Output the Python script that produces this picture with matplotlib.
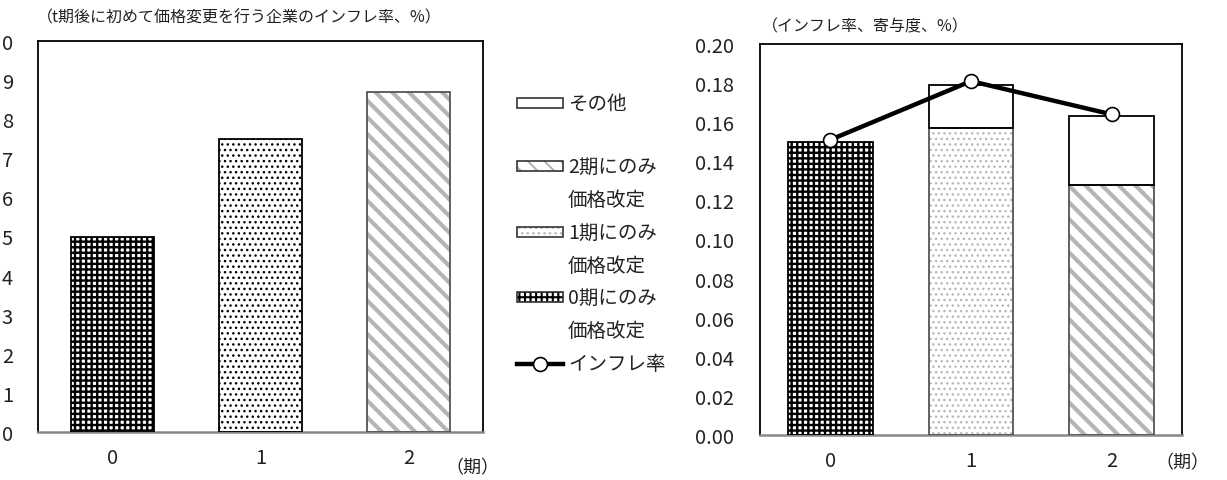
import matplotlib
matplotlib.use("Agg")
import matplotlib.pyplot as plt
from matplotlib.patches import Rectangle
from matplotlib.lines import Line2D
import numpy as np

plt.rcParams["font.family"] = ["Noto Sans CJK JP", "DejaVu Sans"]

# data
periods = ["0", "1", "2"]
left_rate = [0.050, 0.075, 0.087]           # t期後に初めて価格変更を行う企業のインフレ率
only_p0 = [0.150, 0.0, 0.0]                 # 0期にのみ価格改定
only_p1 = [0.0, 0.157, 0.0]                 # 1期にのみ価格改定
only_p2 = [0.0, 0.0, 0.128]                 # 2期にのみ価格改定
others = [0.0, 0.022, 0.035]                # その他
inflation = [0.151, 0.181, 0.164]           # インフレ率
left_ticks = [0.00, 0.01, 0.02, 0.03, 0.04, 0.05, 0.06, 0.07, 0.08, 0.09, 0.10]
right_ticks = [0.00, 0.02, 0.04, 0.06, 0.08, 0.10, 0.12, 0.14, 0.16, 0.18, 0.20]

STYLES = {
    "check": dict(hatch="+++", hc="black", hlw=1.7, edge="black"),
    "dots_dark": dict(hatch="...", hc="black", hlw=1.0, edge="black"),
    "dots_light": dict(hatch="...", hc="#b8b8b8", hlw=1.0, edge="#555555"),
    "diag": dict(hatch="\\\\", hc="#b5b5b5", hlw=3.0, edge="#555555"),
    "plain": dict(hatch=None, hc="black", hlw=1.0, edge="black"),
}


def set_hlw(patch, lw):
    if hasattr(patch, "set_hatch_linewidth"):
        patch.set_hatch_linewidth(lw)


def styled_bar(ax, x, h, bottom, style, width):
    st = STYLES[style]
    x = np.asarray(x, dtype=float)
    h = np.asarray(h, dtype=float)
    bottom = np.asarray(bottom, dtype=float)
    m = h > 0
    if st["hatch"]:
        with plt.rc_context({"hatch.linewidth": st["hlw"]}):
            bars = ax.bar(x[m], h[m], bottom=bottom[m], width=width, color="white",
                          edgecolor=st["hc"], hatch=st["hatch"], linewidth=0, zorder=2)
            for b in bars:
                set_hlw(b, st["hlw"])
    ax.bar(x[m], h[m], bottom=bottom[m], width=width, fill=False,
           edgecolor=st["edge"], linewidth=1.3, zorder=3)


def style_axes(ax):
    for s in ["left", "right", "top"]:
        ax.spines[s].set_color("black")
        ax.spines[s].set_linewidth(1.3)
    ax.spines["bottom"].set_color("#888888")
    ax.spines["bottom"].set_linewidth(1.8)
    ax.tick_params(length=0, labelsize=14.5, colors="#222222")
    ax.tick_params(axis="y", pad=19)
    ax.tick_params(axis="x", pad=11)


fig = plt.figure(figsize=(12.27, 4.81), dpi=100)
W, H = 1227, 481

# left chart (the source image shows only the last digit of each y label)
axl = fig.add_axes([38 / W, (H - 433) / H, 445 / W, 391 / H])
x = np.arange(len(periods))
for i, st in enumerate(["check", "dots_dark", "diag"]):
    vals = np.zeros(len(periods))
    vals[i] = left_rate[i]
    styled_bar(axl, x, vals, np.zeros(len(periods)), st, 0.56)
axl.set_xlim(-0.5, 2.5)
axl.set_ylim(0, 0.10)
axl.set_xticks(x, periods)
axl.set_yticks(left_ticks, [f"{v:.2f}"[-1] for v in left_ticks])
style_axes(axl)
axl.tick_params(axis="y", pad=18)
fig.text(37 / W, 1 - 18 / H, "（t期後に初めて価格変更を行う企業のインフレ率、%）",
         fontsize=11.5, va="center", ha="left", color="#222222")
fig.text(445 / W, 1 - 468 / H, "（期）", fontsize=13, va="center", ha="left", color="#222222")

# right chart
axr = fig.add_axes([760 / W, (H - 436) / H, 422 / W, 391 / H])
bottom = np.zeros(len(periods))
for vals, st in [(only_p0, "check"), (only_p1, "dots_light"), (only_p2, "diag"), (others, "plain")]:
    styled_bar(axr, x, vals, bottom, st, 0.6)
    bottom = bottom + np.asarray(vals)
axr.plot(x, inflation, color="black", lw=3.2, marker="o", ms=10, mfc="white",
         mec="black", mew=1.2, zorder=5, clip_on=False)
axr.set_xlim(-0.5, 2.5)
axr.set_ylim(0, 0.20)
axr.set_xticks(x, periods)
axr.set_yticks(right_ticks, [f"{v:.2f}" for v in right_ticks])
style_axes(axr)
fig.text(762 / W, 1 - 27 / H, "（インフレ率、寄与度、%）",
         fontsize=11.5, va="center", ha="left", color="#222222")
fig.text(1155 / W, 1 - 463 / H, "（期）", fontsize=13, va="center", ha="left", color="#222222")

# legend drawn in pixel coordinates
lax = fig.add_axes([0, 0, 1, 1])
lax.set_xlim(0, W)
lax.set_ylim(H, 0)
lax.axis("off")
lax.set_zorder(-1)
legend_items = [
    ("plain", ["その他"], 104),
    ("diag", ["2期にのみ", "価格改定"], 167),
    ("dots_light", ["1期にのみ", "価格改定"], 233),
    ("check", ["0期にのみ", "価格改定"], 298),
]
for st, lines, yc in legend_items:
    s = STYLES[st]
    if s["hatch"]:
        with plt.rc_context({"hatch.linewidth": min(s["hlw"], 1.5)}):
            r = Rectangle((517, yc - 5), 46, 10, facecolor="white", edgecolor=s["hc"],
                          hatch=s["hatch"], linewidth=0)
            set_hlw(r, min(s["hlw"], 1.5))
            lax.add_patch(r)
    lax.add_patch(Rectangle((517, yc - 5), 46, 10, fill=False, edgecolor="#333333", linewidth=1.2))
    for k, t in enumerate(lines):
        lax.text(568, yc + 33 * k, t, fontsize=14, va="center", ha="left", color="#222222")
lax.add_line(Line2D([517, 563], [365, 365], color="black", lw=3.2))
lax.plot([540], [365], marker="o", ms=10, mfc="white", mec="black", mew=1.2)
lax.text(568, 365, "インフレ率", fontsize=14, va="center", ha="left", color="#222222")

fig.savefig("out.png", dpi=100)
